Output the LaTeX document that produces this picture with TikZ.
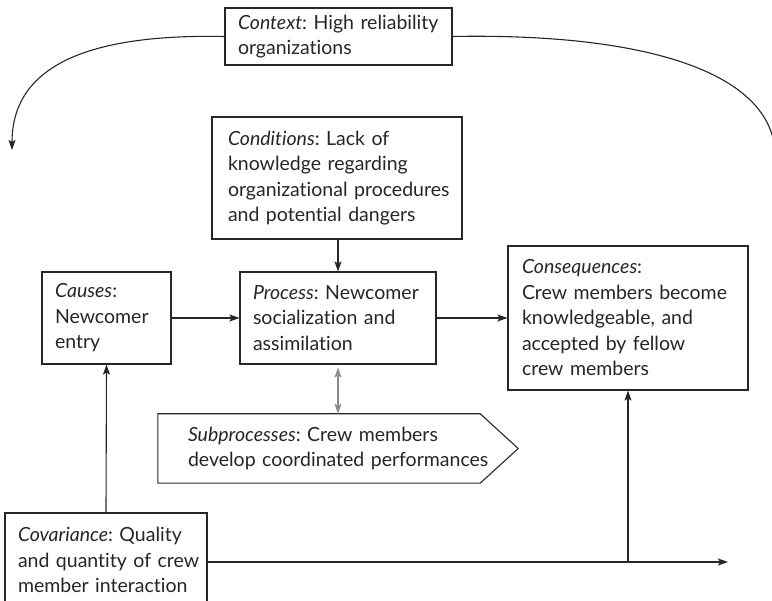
\documentclass[tikz,border=0pt]{standalone}
\usepackage{fontspec}
\setmainfont{Lato}[Ligatures=NoCommon]
\usetikzlibrary{arrows.meta,calc}
\definecolor{ink}{HTML}{262626}
\definecolor{soft}{HTML}{8C8C8C}
\hyphenpenalty=10000
\exhyphenpenalty=10000
\hbadness=10000
\hfuzz=100pt
\begin{document}
\begin{tikzpicture}[x=1pt,y=-1pt,
  every node/.style={font=\fontsize{19.5}{25.5}\selectfont, text=ink,
    execute at begin node={\frenchspacing\hyphenpenalty=10000 }},
  box/.style={draw=ink, line width=1.1pt, rectangle, align=left,
    inner ysep=0pt, inner xsep=13pt},
  link/.style={draw=ink, line width=1.1pt, -{Stealth[length=10pt,width=7pt,inset=2pt]}},
  tie/.style={draw=ink, line width=1.1pt},
  twoway/.style={draw=soft, line width=1.1pt,
    {Stealth[length=10pt,width=7pt,inset=2pt]}-{Stealth[length=10pt,width=7pt,inset=2pt]}}]
\useasboundingbox (0,0) rectangle (772,601);

% boxes
\node[box, minimum width=227pt, minimum height=57pt, text width=201pt]
  (context) at (338.5,36.5) {\textit{Context}: High reliability\\organizations};
\node[box, minimum width=250pt, minimum height=122pt, text width=218pt, inner xsep=16pt]
  (conditions) at (337,178) {\textit{Conditions}: Lack of\\knowledge regarding\\organizational~procedures\\and potential dangers};
\node[box, minimum width=129pt, minimum height=92pt, text width=103pt]
  (causes) at (106.5,318) {\textit{Causes}:\\Newcomer\\entry};
\node[box, minimum width=196pt, minimum height=92pt, text width=170pt]
  (process) at (338,318) {\textit{Process}:~Newcomer\\socialization and\\assimilation};
\node[box, minimum width=240pt, minimum height=144pt, text width=212pt, inner xsep=14pt]
  (consequences) at (628,318) {\textit{Consequences}:\\Crew~members~become\\knowledgeable, and\\accepted by fellow\\crew members};
\node[align=left, inner sep=0pt, minimum height=69pt, text width=300pt]
  (subproc) at (338,448.5) {\textit{Subprocesses}: Crew members\\develop~coordinated~performances};
\node[box, minimum width=202pt, minimum height=94pt, text width=176pt]
  (covariance) at (106,560) {\textit{Covariance}:~Quality\\and~quantity~of~crew\\member~interaction};

% pentagon outline of the subprocesses block
\draw[tie] ($(subproc.north west)+(-30,0)$) -- ($(subproc.north east)+(-8,0)$)
  -- ($(subproc.east)+(30,0)$) -- ($(subproc.south east)+(-8,0)$)
  -- ($(subproc.south west)+(-30,0)$) -- cycle;

% context influences everything
\coordinate (leftend) at (12,150);
\coordinate (rightend) at (775,150);
\draw[link] (context.west) .. controls (100,34) and (12,60) .. (leftend);
\draw[tie] (context.east) .. controls (640,33) and (768,70) .. (rightend);

% main chain
\draw[link] (conditions.south -| process.north) -- (process.north);
\draw[link] (causes) -- (process);
\draw[link] (process) -- (consequences);
\draw[twoway, shorten <=3pt] (process.south) -- (subproc.north);

% covariance
\coordinate (junction) at (628,562);
\coordinate (axisend) at (728,562);
\draw[link] (covariance.north) -- (causes.south);
\draw[link] (covariance.east |- junction) -- (axisend);
\draw[link] (junction) -- (consequences.south);
\end{tikzpicture}
\end{document}
